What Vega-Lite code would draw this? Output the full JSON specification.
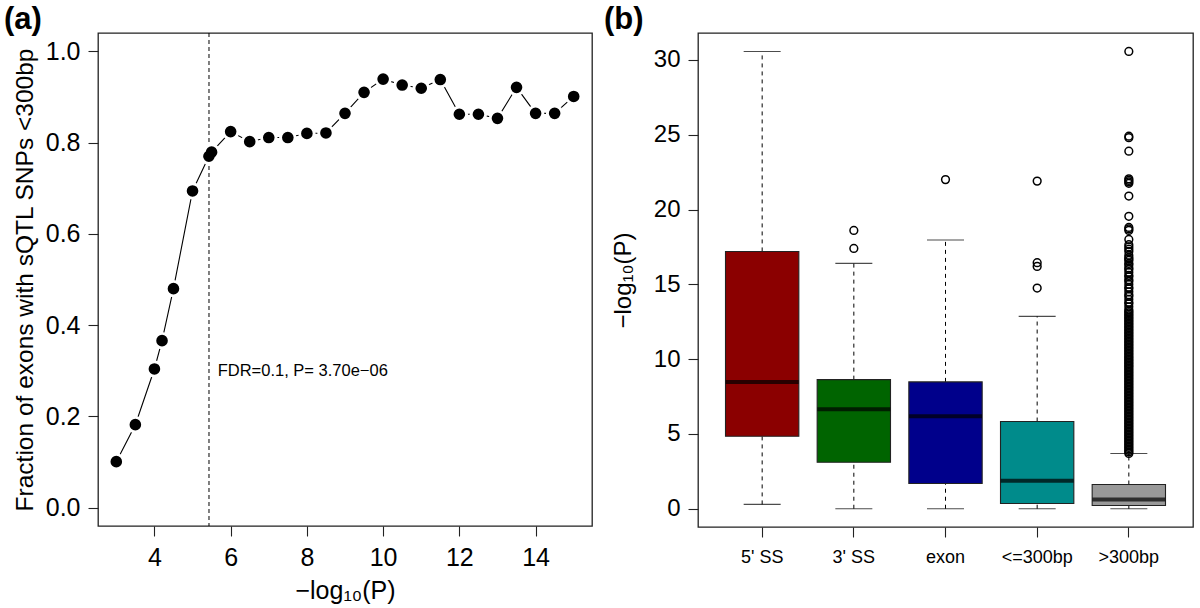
{
  "$schema": "https://vega.github.io/schema/vega-lite/v6.json",
  "background": "white",
  "padding": {"left": 3, "top": 2, "right": 5, "bottom": 5},
  "spacing": 106,
  "bounds": "flush",
  "config": {
    "font": "Liberation Sans",
    "view": {"stroke": "#222", "strokeWidth": 1.3},
    "axis": {"grid": false, "domain": false, "tickColor": "#222", "tickSize": 10, "tickWidth": 1.1, "labelColor": "black", "titleColor": "black", "titleFontWeight": "normal", "labelFont": "Liberation Sans", "titleFont": "Liberation Sans"},
    "title": {"font": "Liberation Sans", "fontWeight": "bold", "fontSize": 31, "color": "black", "anchor": "start", "frame": "group"}
  },
  "datasets": {
    "frac": [
      {"p": 3.0, "f": 0.101}, {"p": 3.5, "f": 0.182}, {"p": 4.0, "f": 0.304}, {"p": 4.2, "f": 0.366},
      {"p": 4.5, "f": 0.480}, {"p": 5.0, "f": 0.694}, {"p": 5.43, "f": 0.770}, {"p": 5.5, "f": 0.779},
      {"p": 6.0, "f": 0.824}, {"p": 6.5, "f": 0.802}, {"p": 7.0, "f": 0.811}, {"p": 7.5, "f": 0.811},
      {"p": 8.0, "f": 0.820}, {"p": 8.5, "f": 0.821}, {"p": 9.0, "f": 0.864}, {"p": 9.5, "f": 0.910},
      {"p": 10.0, "f": 0.939}, {"p": 10.5, "f": 0.926}, {"p": 11.0, "f": 0.919}, {"p": 11.5, "f": 0.938},
      {"p": 12.0, "f": 0.862}, {"p": 12.5, "f": 0.862}, {"p": 13.0, "f": 0.853}, {"p": 13.5, "f": 0.921},
      {"p": 14.0, "f": 0.864}, {"p": 14.5, "f": 0.864}, {"p": 15.0, "f": 0.901}
    ],
    "boxes": [
      {"c": "5' SS", "lo": 0.29, "q1": 4.85, "med": 8.48, "q3": 17.2, "hi": 30.56, "col": "#8B0000"},
      {"c": "3' SS", "lo": 0.0, "q1": 3.11, "med": 6.65, "q3": 8.63, "hi": 16.4, "col": "#006400"},
      {"c": "exon", "lo": 0.0, "q1": 1.69, "med": 6.18, "q3": 8.48, "hi": 17.96, "col": "#00008B"},
      {"c": "<=300bp", "lo": 0.0, "q1": 0.35, "med": 1.87, "q3": 5.83, "hi": 12.86, "col": "#008B8B"},
      {"c": ">300bp", "lo": 0.0, "q1": 0.22, "med": 0.62, "q3": 1.62, "hi": 3.69, "col": "#999999"}
    ],
    "outliers": [
      {"c": "3' SS", "v": 18.6}, {"c": "3' SS", "v": 17.4},
      {"c": "exon", "v": 22.0},
      {"c": "<=300bp", "v": 21.9}, {"c": "<=300bp", "v": 16.45}, {"c": "<=300bp", "v": 16.2}, {"c": "<=300bp", "v": 14.75},
      {"c": ">300bp", "v": 30.57}, {"c": ">300bp", "v": 24.9}, {"c": ">300bp", "v": 24.8}, {"c": ">300bp", "v": 23.9},
      {"c": ">300bp", "v": 22.05}, {"c": ">300bp", "v": 21.95}, {"c": ">300bp", "v": 21.85}, {"c": ">300bp", "v": 21.75},
      {"c": ">300bp", "v": 20.9}, {"c": ">300bp", "v": 19.55}, {"c": ">300bp", "v": 18.8}, {"c": ">300bp", "v": 18.7},
      {"c": ">300bp", "v": 18.6}, {"c": ">300bp", "v": 18.0}, {"c": ">300bp", "v": 17.65}, {"c": ">300bp", "v": 17.5},
      {"c": ">300bp", "v": 17.35}, {"c": ">300bp", "v": 17.2}, {"c": ">300bp", "v": 16.95}, {"c": ">300bp", "v": 16.8},
      {"c": ">300bp", "v": 16.7}, {"c": ">300bp", "v": 16.6}, {"c": ">300bp", "v": 16.4}, {"c": ">300bp", "v": 16.3},
      {"c": ">300bp", "v": 16.1}, {"c": ">300bp", "v": 16.0}, {"c": ">300bp", "v": 15.8}, {"c": ">300bp", "v": 15.6},
      {"c": ">300bp", "v": 15.5}, {"c": ">300bp", "v": 15.3}, {"c": ">300bp", "v": 15.2}, {"c": ">300bp", "v": 15.0},
      {"c": ">300bp", "v": 14.8}, {"c": ">300bp", "v": 14.7}, {"c": ">300bp", "v": 14.5}, {"c": ">300bp", "v": 14.3},
      {"c": ">300bp", "v": 14.2}, {"c": ">300bp", "v": 14.0}, {"c": ">300bp", "v": 13.8}, {"c": ">300bp", "v": 13.7},
      {"c": ">300bp", "v": 13.5}, {"c": ">300bp", "v": 13.3}, {"c": ">300bp", "v": 13.2}, {"c": ">300bp", "v": 13.1},
      {"c": ">300bp", "v": 13.0}, {"c": ">300bp", "v": 12.9}, {"c": ">300bp", "v": 12.8}, {"c": ">300bp", "v": 12.7},
      {"c": ">300bp", "v": 12.6}, {"c": ">300bp", "v": 12.5}, {"c": ">300bp", "v": 12.4}, {"c": ">300bp", "v": 12.3},
      {"c": ">300bp", "v": 12.2}, {"c": ">300bp", "v": 12.1}, {"c": ">300bp", "v": 12.0}, {"c": ">300bp", "v": 11.9},
      {"c": ">300bp", "v": 11.8}, {"c": ">300bp", "v": 11.7}, {"c": ">300bp", "v": 11.6}, {"c": ">300bp", "v": 11.5},
      {"c": ">300bp", "v": 11.4}, {"c": ">300bp", "v": 11.3}, {"c": ">300bp", "v": 11.2}, {"c": ">300bp", "v": 11.1},
      {"c": ">300bp", "v": 11.0}, {"c": ">300bp", "v": 10.9}, {"c": ">300bp", "v": 10.8}, {"c": ">300bp", "v": 10.7},
      {"c": ">300bp", "v": 10.6}, {"c": ">300bp", "v": 10.5}, {"c": ">300bp", "v": 10.4}, {"c": ">300bp", "v": 10.3},
      {"c": ">300bp", "v": 10.2}, {"c": ">300bp", "v": 10.1}, {"c": ">300bp", "v": 10.0}, {"c": ">300bp", "v": 9.9},
      {"c": ">300bp", "v": 9.8}, {"c": ">300bp", "v": 9.7}, {"c": ">300bp", "v": 9.6}, {"c": ">300bp", "v": 9.5},
      {"c": ">300bp", "v": 9.4}, {"c": ">300bp", "v": 9.3}, {"c": ">300bp", "v": 9.2}, {"c": ">300bp", "v": 9.1},
      {"c": ">300bp", "v": 9.0}, {"c": ">300bp", "v": 8.9}, {"c": ">300bp", "v": 8.8}, {"c": ">300bp", "v": 8.7},
      {"c": ">300bp", "v": 8.6}, {"c": ">300bp", "v": 8.5}, {"c": ">300bp", "v": 8.4}, {"c": ">300bp", "v": 8.3},
      {"c": ">300bp", "v": 8.2}, {"c": ">300bp", "v": 8.1}, {"c": ">300bp", "v": 8.0}, {"c": ">300bp", "v": 7.9},
      {"c": ">300bp", "v": 7.8}, {"c": ">300bp", "v": 7.7}, {"c": ">300bp", "v": 7.6}, {"c": ">300bp", "v": 7.5},
      {"c": ">300bp", "v": 7.4}, {"c": ">300bp", "v": 7.3}, {"c": ">300bp", "v": 7.2}, {"c": ">300bp", "v": 7.1},
      {"c": ">300bp", "v": 7.0}, {"c": ">300bp", "v": 6.9}, {"c": ">300bp", "v": 6.8}, {"c": ">300bp", "v": 6.7},
      {"c": ">300bp", "v": 6.6}, {"c": ">300bp", "v": 6.5}, {"c": ">300bp", "v": 6.4}, {"c": ">300bp", "v": 6.3},
      {"c": ">300bp", "v": 6.2}, {"c": ">300bp", "v": 6.1}, {"c": ">300bp", "v": 6.0}, {"c": ">300bp", "v": 5.9},
      {"c": ">300bp", "v": 5.8}, {"c": ">300bp", "v": 5.7}, {"c": ">300bp", "v": 5.6}, {"c": ">300bp", "v": 5.5},
      {"c": ">300bp", "v": 5.4}, {"c": ">300bp", "v": 5.3}, {"c": ">300bp", "v": 5.2}, {"c": ">300bp", "v": 5.1},
      {"c": ">300bp", "v": 5.0}, {"c": ">300bp", "v": 4.9}, {"c": ">300bp", "v": 4.8}, {"c": ">300bp", "v": 4.7},
      {"c": ">300bp", "v": 4.6}, {"c": ">300bp", "v": 4.5}, {"c": ">300bp", "v": 4.4}, {"c": ">300bp", "v": 4.3},
      {"c": ">300bp", "v": 4.2}, {"c": ">300bp", "v": 4.1}, {"c": ">300bp", "v": 4.0}, {"c": ">300bp", "v": 3.9},
      {"c": ">300bp", "v": 3.8}, {"c": ">300bp", "v": 3.7}
    ]
  },
  "hconcat": [
    {
      "width": 494,
      "height": 493,
      "title": {"text": "(a)", "dx": -94, "offset": -3},
      "layer": [
        {
          "data": {"values": [{"thr": 5.4318}]},
          "mark": {"type": "rule", "strokeDash": [4, 3], "color": "black", "strokeWidth": 1},
          "encoding": {"x": {"field": "thr", "type": "quantitative"}}
        },
        {
          "data": {"values": [{"x": 5.66, "y": 0.30, "t": "FDR=0.1, P= 3.70e−06"}]},
          "mark": {"type": "text", "align": "left", "baseline": "middle", "fontSize": 16.5, "color": "black"},
          "encoding": {
            "x": {"field": "x", "type": "quantitative"},
            "y": {"field": "y", "type": "quantitative"},
            "text": {"field": "t"}
          }
        },
        {
          "data": {"name": "frac"},
          "mark": {"type": "line", "color": "black", "strokeWidth": 1.1},
          "encoding": {
            "x": {"field": "p", "type": "quantitative"},
            "y": {"field": "f", "type": "quantitative"}
          }
        },
        {
          "data": {"name": "frac"},
          "mark": {"type": "point", "shape": "circle", "filled": true, "color": "white", "opacity": 1, "size": 300},
          "encoding": {
            "x": {"field": "p", "type": "quantitative"},
            "y": {"field": "f", "type": "quantitative"}
          }
        },
        {
          "data": {"name": "frac"},
          "mark": {"type": "point", "shape": "circle", "filled": true, "color": "black", "opacity": 1, "size": 135},
          "encoding": {
            "x": {"field": "p", "type": "quantitative"},
            "y": {"field": "f", "type": "quantitative"}
          }
        }
      ],
      "encoding": {
        "x": {
          "type": "quantitative",
          "scale": {"domain": [2.52, 15.48], "nice": false, "zero": false},
          "axis": {"title": "−log₁₀(P)", "values": [4, 6, 8, 10, 12, 14], "labelFontSize": 25, "titleFontSize": 25, "labelPadding": 9, "titlePadding": 8, "labelFlush": false}
        },
        "y": {
          "type": "quantitative",
          "scale": {"domain": [-0.04, 1.04], "nice": false, "zero": false},
          "axis": {"title": "Fraction of exons with sQTL SNPs <300bp", "values": [0, 0.2, 0.4, 0.6, 0.8, 1.0], "format": ".1f", "labelFontSize": 25, "titleFontSize": 24.5, "labelPadding": 8, "titlePadding": 8, "labelFlush": false}
        }
      }
    },
    {
      "width": 495,
      "height": 494,
      "title": {"text": "(b)", "dx": -94, "offset": -3},
      "encoding": {
        "x": {
          "field": "c",
          "type": "nominal",
          "sort": ["5' SS", "3' SS", "exon", "<=300bp", ">300bp"],
          "scale": {"domain": ["5' SS", "3' SS", "exon", "<=300bp", ">300bp"], "paddingInner": 0, "paddingOuter": 0.2},
          "axis": {"title": null, "labelAngle": 0, "labelFontSize": 18, "labelPadding": 11}
        }
      },
      "layer": [
        {
          "data": {"name": "boxes"},
          "mark": {"type": "rule", "strokeDash": [4, 4], "color": "black", "strokeWidth": 1},
          "encoding": {
            "y": {"field": "lo", "type": "quantitative", "scale": {"domain": [-1.22, 31.8], "nice": false, "zero": false}, "axis": {"title": "−log₁₀(P)", "values": [0, 5, 10, 15, 20, 25, 30], "labelFontSize": 24, "titleFontSize": 24, "labelPadding": 8, "titlePadding": 18}},
            "y2": {"field": "q1"}
          }
        },
        {
          "data": {"name": "boxes"},
          "mark": {"type": "rule", "strokeDash": [4, 4], "color": "black", "strokeWidth": 1},
          "encoding": {
            "y": {"field": "q3", "type": "quantitative"},
            "y2": {"field": "hi"}
          }
        },
        {
          "data": {"name": "boxes"},
          "mark": {"type": "tick", "color": "black", "size": 37, "thickness": 1.1},
          "encoding": {"y": {"field": "lo", "type": "quantitative"}}
        },
        {
          "data": {"name": "boxes"},
          "mark": {"type": "tick", "color": "black", "size": 37, "thickness": 1.1},
          "encoding": {"y": {"field": "hi", "type": "quantitative"}}
        },
        {
          "data": {"name": "boxes"},
          "mark": {"type": "bar", "stroke": "#222", "strokeWidth": 1.1, "width": {"band": 0.8}},
          "encoding": {
            "y": {"field": "q1", "type": "quantitative"},
            "y2": {"field": "q3"},
            "fill": {"field": "col", "type": "nominal", "scale": null}
          }
        },
        {
          "data": {"name": "boxes"},
          "mark": {"type": "tick", "color": "black", "size": 73, "thickness": 4},
          "encoding": {"y": {"field": "med", "type": "quantitative"}}
        },
        {
          "data": {"name": "outliers"},
          "mark": {"type": "point", "shape": "circle", "filled": false, "color": "black", "opacity": 1, "size": 60, "strokeWidth": 1.5},
          "encoding": {"y": {"field": "v", "type": "quantitative"}}
        }
      ]
    }
  ]
}
